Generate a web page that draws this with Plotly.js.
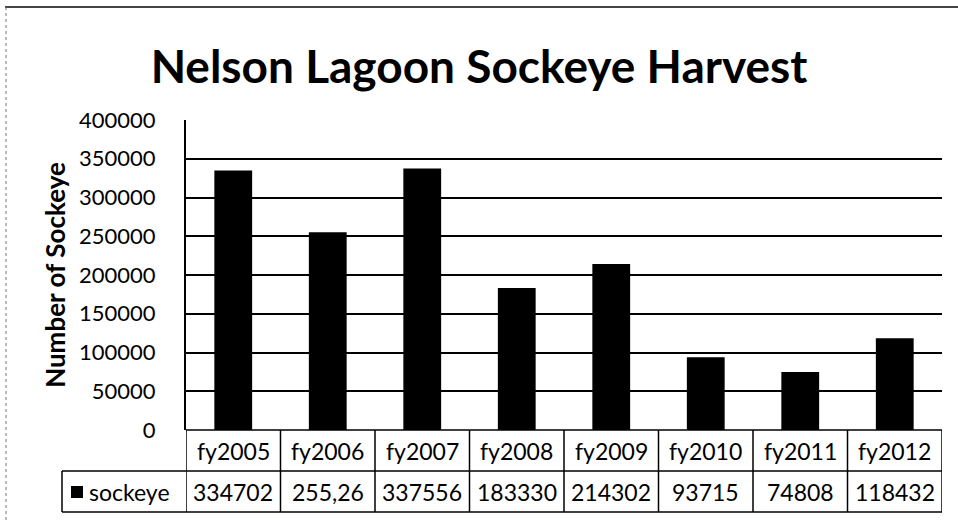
<!DOCTYPE html>
<html>
<head>
<meta charset="utf-8">
<script src="https://cdn.plot.ly/plotly-3.0.1.min.js"></script>
<style>html,body{margin:0;padding:0;background:#fff;}#chart{width:958px;height:522px;}</style>
</head>
<body>
<div id="chart"></div>
<script>
var categories = ["fy2005","fy2006","fy2007","fy2008","fy2009","fy2010","fy2011","fy2012"];
var sockeye = [334702, 255260, 337556, 183330, 214302, 93715, 74808, 118432];
var tableLabels = ["334702","255,26","337556","183330","214302","93715","74808","118432"];
var seriesName = "sockeye";
var tickVals = [0,50000,100000,150000,200000,250000,300000,350000,400000];

var FONT = "Lato, 'Open Sans', sans-serif";
var plotL = 186, plotR = 942, plotT = 120, plotB = 430, W = 958, H = 522;
var plotH = plotB - plotT, plotW = plotR - plotL;
function py(pix){ return (plotB - pix) / plotH; }   // pixel y -> paper y
function px(pix){ return (pix - plotL) / plotW; }   // pixel x -> paper x

var hdrBottom = py(471), rowBottom = py(512), legendLeft = px(62);

var shapes = [];
var annotations = [];
var lineStyle = {color:"#000", width:1.5};
shapes.push({type:"line", xref:"x", yref:"paper", x0:-0.5, x1:categories.length-0.5, y0:0, y1:0, line:lineStyle});
shapes.push({type:"line", xref:"paper", yref:"paper", x0:legendLeft, x1:1, y0:hdrBottom, y1:hdrBottom, line:lineStyle});
shapes.push({type:"line", xref:"paper", yref:"paper", x0:legendLeft, x1:1, y0:rowBottom, y1:rowBottom, line:lineStyle});
shapes.push({type:"line", xref:"paper", yref:"paper", x0:legendLeft, x1:legendLeft, y0:hdrBottom, y1:rowBottom, line:lineStyle});
for (var i = 0; i <= categories.length; i++) {
  shapes.push({type:"line", xref:"x", yref:"paper", x0:i-0.5, x1:i-0.5, y0:rowBottom, y1:0, line:lineStyle});
}
shapes.push({type:"rect", xref:"paper", yref:"paper", x0:px(71), x1:px(83), y0:py(498), y1:py(486), fillcolor:"#000", line:{width:0}});
shapes.push({type:"line", xref:"paper", yref:"paper", x0:px(5), x1:px(958), y0:py(7), y1:py(7), line:{color:"#444", width:2}});
shapes.push({type:"line", xref:"paper", yref:"paper", x0:px(6), x1:px(6), y0:py(7), y1:py(520), line:{color:"#777", width:1, dash:"dot"}});

var cellFont = {family:FONT, size:23, color:"#000"};
for (var j = 0; j < categories.length; j++) {
  annotations.push({xref:"x", yref:"paper", x:j, y:(0+hdrBottom)/2, text:categories[j], showarrow:false, xanchor:"center", yanchor:"middle", font:cellFont});
  annotations.push({xref:"x", yref:"paper", x:j, y:(hdrBottom+rowBottom)/2, text:tableLabels[j], showarrow:false, xanchor:"center", yanchor:"middle", font:cellFont});
}
annotations.push({xref:"paper", yref:"paper", x:px(87), y:(hdrBottom+rowBottom)/2, text:seriesName, showarrow:false, xanchor:"left", yanchor:"middle", font:cellFont});

var data = [{
  type:"bar", x:categories, y:sockeye, name:seriesName,
  marker:{color:"#000", line:{color:"#000", width:0}}, width:0.4, hoverinfo:"x+y"
}];

var layout = {
  width:W, height:H,
  margin:{l:plotL, r:W-plotR, t:plotT, b:H-plotB, pad:0},
  paper_bgcolor:"#fff", plot_bgcolor:"#fff",
  showlegend:false,
  title:{text:"<b>Nelson Lagoon Sockeye Harvest</b>", x:0.5, xref:"container", xanchor:"center", y:1-67/H, yref:"container", yanchor:"middle", font:{family:FONT, size:46, color:"#000"}},
  xaxis:{type:"category", range:[-0.5, categories.length-0.5], showticklabels:false, showgrid:false, zeroline:false, showline:false, ticks:"", fixedrange:true},
  yaxis:{range:[0,400000], tickvals:tickVals, ticktext:tickVals.map(String), showgrid:true, gridcolor:"#000", gridwidth:2,
         zeroline:false, showline:true, linecolor:"#000", linewidth:2, ticks:"", ticklabelstandoff:24,
         tickfont:{family:FONT, size:22, color:"#000"},
         title:{text:"<b>Number of Sockeye</b>", standoff:6, font:{family:FONT, size:26, color:"#000"}}, automargin:false},
  shapes:shapes, annotations:annotations
};
Plotly.newPlot("chart", data, layout, {displayModeBar:false, staticPlot:true});
</script>
</body>
</html>
